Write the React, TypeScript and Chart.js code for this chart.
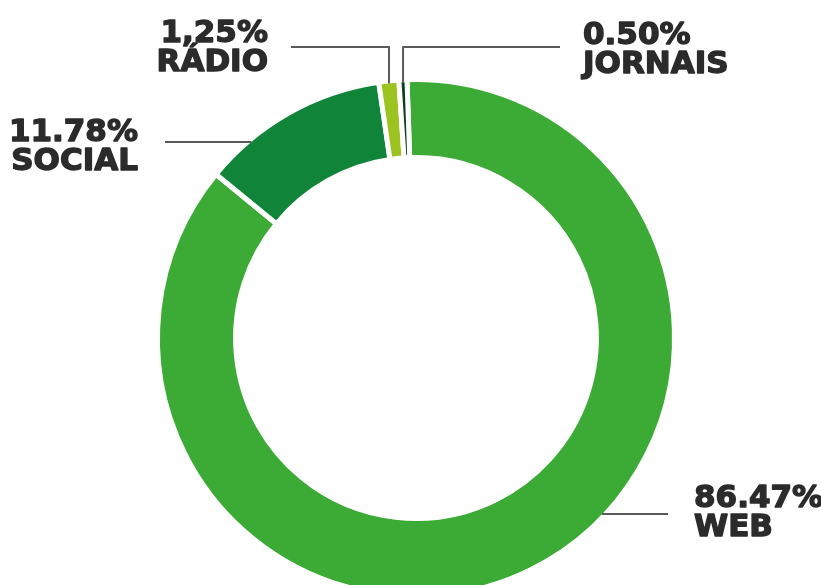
import React, { useEffect, useRef } from "react";
import { Chart, registerables } from "chart.js";

Chart.register(...registerables);

const categories = ["WEB", "SOCIAL", "RÁDIO", "JORNAIS"];
const shares = [86.47, 11.78, 1.25, 0.5];
const valueLabels = ["86.47%", "11.78%", "1,25%", "0.50%"];
const colors = ["#3cab35", "#10853a", "#9cc31f", "#0e3d20"];

// label layout: text anchor, first baseline, alignment, leader line y and far x
type LabelLayout = { tx: number; by: number; align: CanvasTextAlign; ly: number; lx: number; kind: "h" | "v" };
const layouts: LabelLayout[] = [
  { tx: 694, by: 507, align: "left", ly: 514, lx: 668, kind: "h" },
  { tx: 138, by: 141, align: "right", ly: 142, lx: 165, kind: "h" },
  { tx: 268, by: 42, align: "right", ly: 47, lx: 291, kind: "v" },
  { tx: 583, by: 44, align: "left", ly: 47, lx: 560, kind: "v" },
];

const labelPlugin = {
  id: "leaderLabels",
  afterDatasetsDraw(chart: any) {
    const ctx: CanvasRenderingContext2D = chart.ctx;
    const meta = chart.getDatasetMeta(0);
    ctx.save();
    meta.data.forEach((arc: any, i: number) => {
      const L = layouts[i];
      const { x, y, startAngle, endAngle, outerRadius } = arc.getProps(
        ["x", "y", "startAngle", "endAngle", "outerRadius"],
        true
      );
      const R = outerRadius - 2.5;
      ctx.strokeStyle = "#5a5a5a";
      ctx.lineWidth = 2;
      ctx.beginPath();
      if (L.kind === "h") {
        const dy = L.ly - y;
        const dx = Math.sqrt(Math.max(R * R - dy * dy, 0));
        const ex = L.lx > x ? x + dx : x - dx;
        ctx.moveTo(L.lx, L.ly);
        ctx.lineTo(ex, L.ly);
      } else {
        const mid = (startAngle + endAngle) / 2;
        const px = x + R * Math.cos(mid);
        const py = y + R * Math.sin(mid);
        ctx.moveTo(L.lx, L.ly);
        ctx.lineTo(px, L.ly);
        ctx.lineTo(px, py);
      }
      ctx.stroke();

      ctx.fillStyle = "#2b2b2b";
      ctx.strokeStyle = "#2b2b2b";
      ctx.lineWidth = 1.4;
      ctx.lineJoin = "round";
      ctx.font = "bold 31px 'DejaVu Sans'";
      ctx.textAlign = L.align;
      ctx.textBaseline = "alphabetic";
      ctx.fillText(valueLabels[i], L.tx, L.by);
      ctx.strokeText(valueLabels[i], L.tx, L.by);
      ctx.fillText(categories[i], L.tx, L.by + 29);
      ctx.strokeText(categories[i], L.tx, L.by + 29);
    });
    ctx.restore();
  },
};

export default function App() {
  const ref = useRef<HTMLCanvasElement>(null);
  useEffect(() => {
    if (!ref.current) return;
    const chart = new Chart(ref.current, {
      type: "doughnut",
      data: {
        labels: categories,
        datasets: [
          {
            data: shares,
            backgroundColor: colors,
            borderColor: "#ffffff",
            borderWidth: 5,
            hoverOffset: 0,
          },
        ],
      },
      options: {
        responsive: false,
        maintainAspectRatio: false,
        animation: false,
        devicePixelRatio: 1,
        rotation: -2,
        radius: 258.5,
        cutout: "69.8%",
        layout: { padding: { left: 11, right: 0, top: 0, bottom: 0 } },
        plugins: {
          legend: { display: false },
          tooltip: { enabled: false },
        },
      },
      plugins: [labelPlugin],
    });
    return () => chart.destroy();
  }, []);
  return (
    <div
      style={{
        position: "fixed",
        left: 0,
        top: 0,
        width: 821,
        height: 585,
        overflow: "hidden",
        background: "#ffffff",
      }}
    >
      <canvas ref={ref} width={821} height={676} style={{ display: "block", width: 821, height: 676 }} />
    </div>
  );
}
